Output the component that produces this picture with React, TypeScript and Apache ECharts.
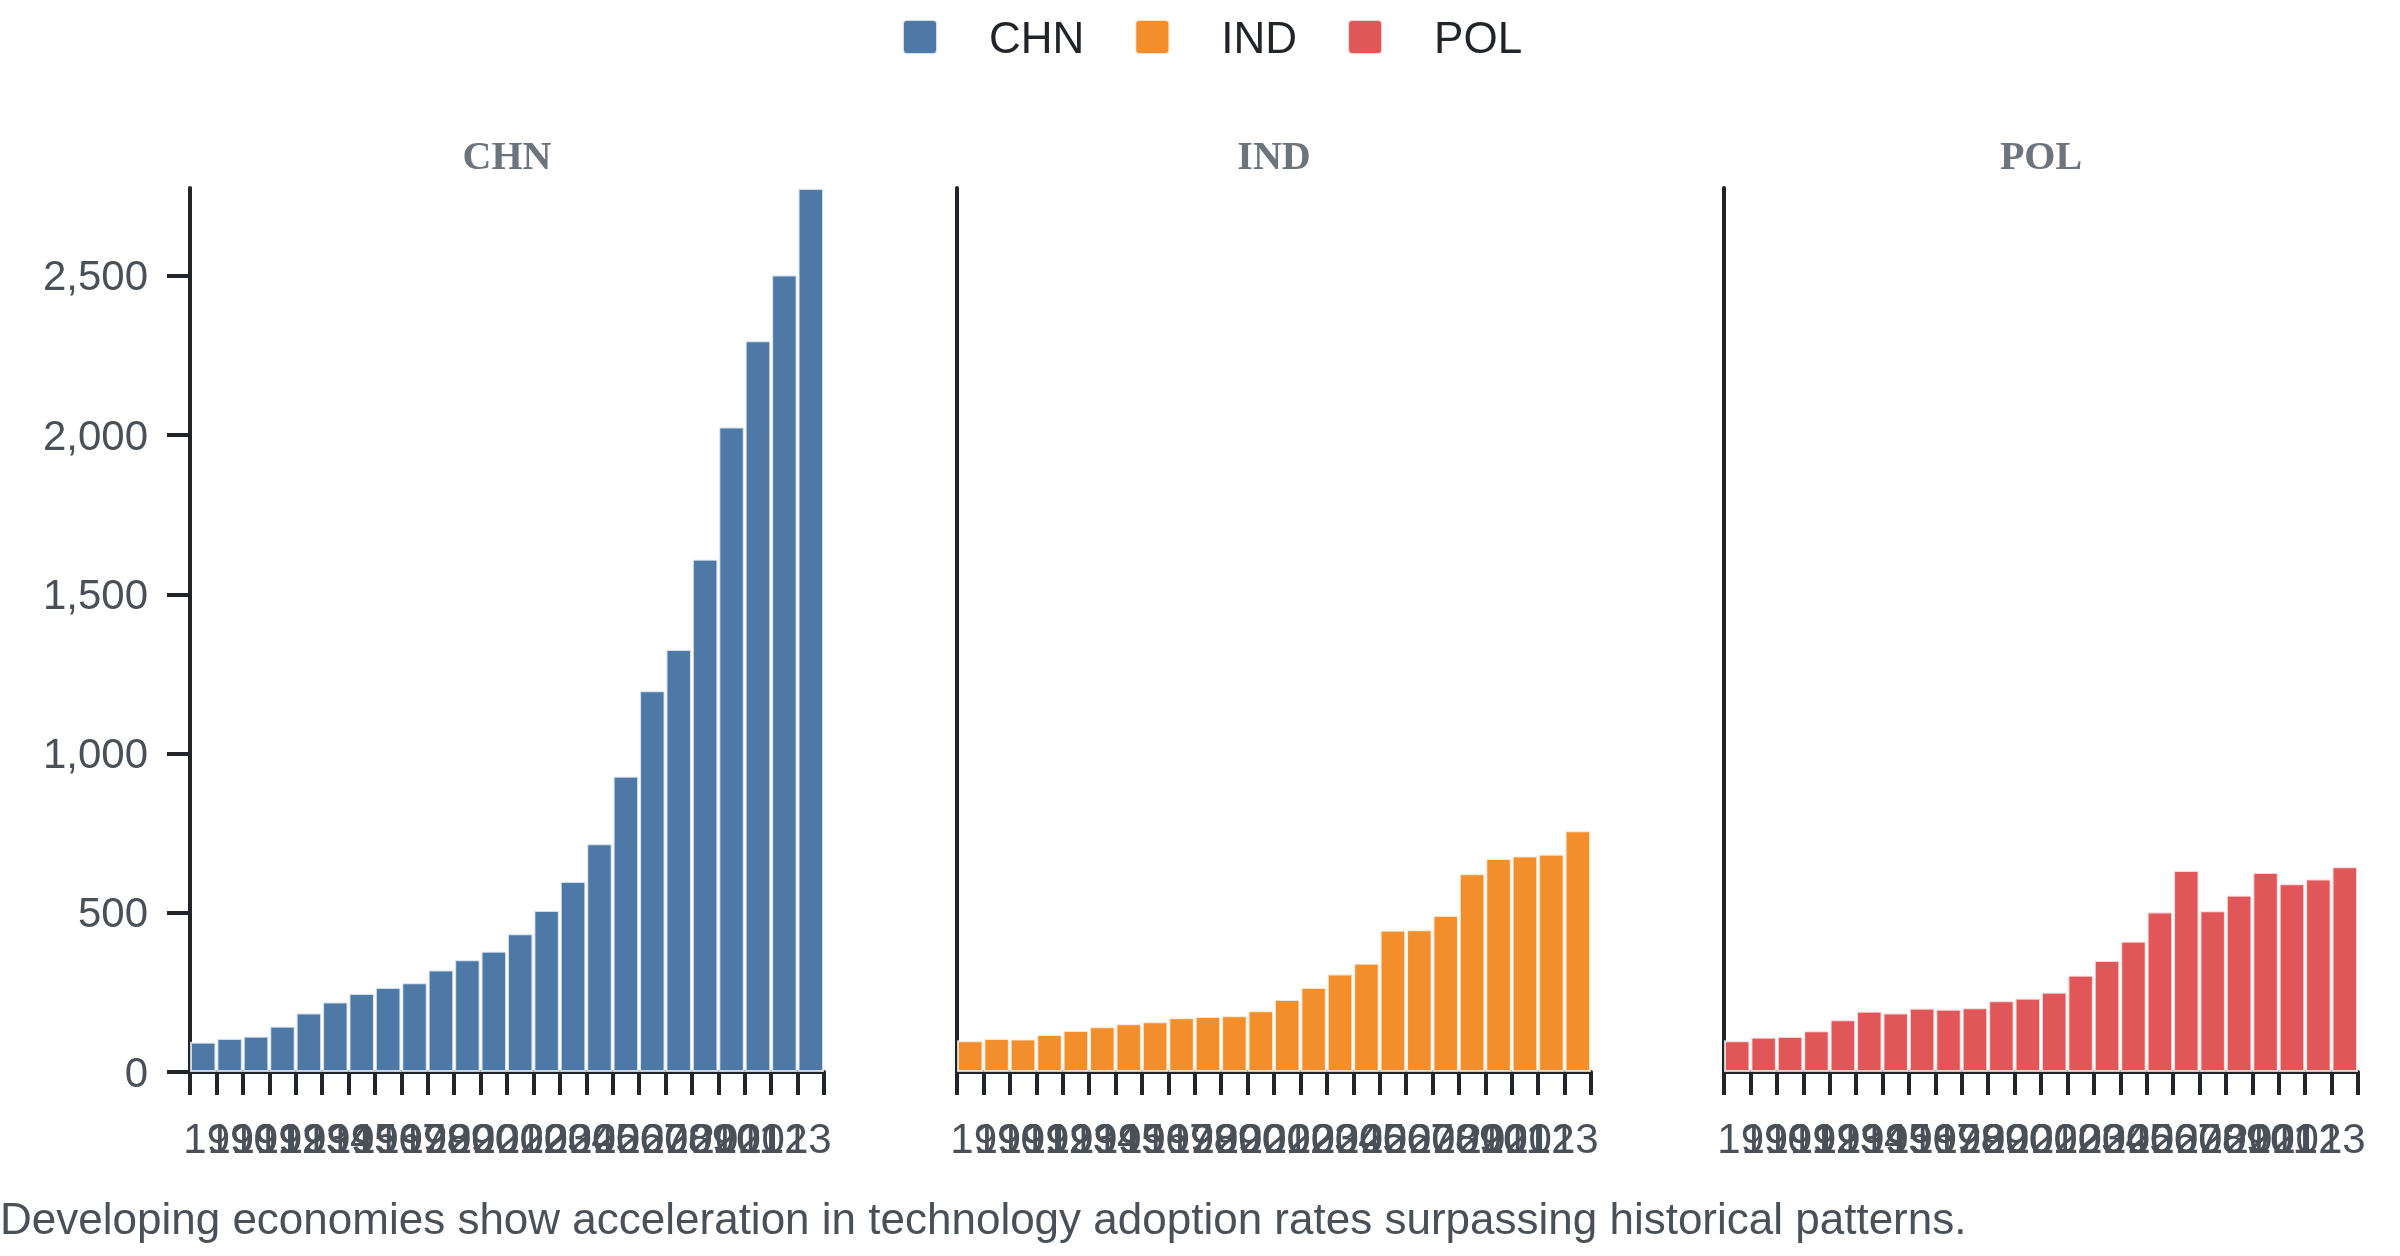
import React, { useEffect, useRef } from 'react';
import * as echarts from 'echarts';

const YEARS = ['1990', '1991', '1992', '1993', '1994', '1995', '1996', '1997', '1998', '1999', '2000', '2001', '2002', '2003', '2004', '2005', '2006', '2007', '2008', '2009', '2010', '2011', '2012', '2013'];
const COUNTRIES = ['CHN', 'IND', 'POL'];
const CHN = [95, 107, 114, 145, 187, 221, 248, 267, 282, 322, 354, 381, 436, 509, 600, 718, 930, 1199, 1328, 1612, 2027, 2298, 2504, 2776];
const IND = [100, 107, 105, 119, 132, 144, 153, 159, 172, 176, 178, 194, 229, 267, 309, 343, 447, 448, 493, 624, 672, 680, 685, 759];
const POL = [100, 111, 113, 131, 166, 192, 187, 202, 199, 203, 225, 233, 252, 305, 352, 412, 504, 634, 508, 557, 628, 593, 608, 646];
const Y_TICKS = [0, 500, 1000, 1500, 2000, 2500];
const CAPTION = 'Developing economies show acceleration in technology adoption rates surpassing historical patterns.';
const COLORS = ['#4e79a7', '#f28e2b', '#e15759'];

export default function App() {
  const ref = useRef<HTMLDivElement>(null);
  useEffect(() => {
    const chart = echarts.init(ref.current as HTMLDivElement, null, { renderer: 'svg' });
    const values = [CHN, IND, POL];
    const yMax = Math.max(...CHN, ...IND, ...POL);
    const lefts = [190, 957, 1724];
    const W = 634;
    const TOP = 188;
    const H = 884;
    const LABEL_INSET_L = 28;
    const LABEL_INSET_R = 27;
    const axisColor = '#212529';
    const labelColor = '#495057';
    const font = 'Liberation Sans, Arial, sans-serif';
    const legendIcon = 'path://M4,0 H30 A4,4 0 0 1 34,4 V30 A4,4 0 0 1 30,34 H4 A4,4 0 0 1 0,30 V4 A4,4 0 0 1 4,0 Z';

    const mainGrids = lefts.map((l) => ({ left: l, top: TOP, width: W, height: H, containLabel: false }));
    const labelGrids = lefts.map((l) => ({
      left: l + LABEL_INSET_L,
      top: TOP,
      width: W - LABEL_INSET_L - LABEL_INSET_R,
      height: H,
      containLabel: false,
    }));

    const mainX = lefts.map((_, i) => ({
      type: 'category',
      gridIndex: i,
      data: YEARS,
      axisLine: { show: true, lineStyle: { color: axisColor, width: 4 } },
      axisTick: { show: true, interval: 0, length: 23, lineStyle: { color: axisColor, width: 4 } },
      axisLabel: { show: false, interval: 0 },
      splitLine: { show: false },
    }));
    const labelX = lefts.map((_, i) => ({
      type: 'category',
      gridIndex: 3 + i,
      data: YEARS,
      axisLine: { show: false },
      axisTick: { show: false },
      axisLabel: { show: true, interval: 0, fontSize: 42, color: labelColor, margin: 45, fontFamily: font },
      splitLine: { show: false },
    }));
    const mainY = lefts.map((_, i) => ({
      type: 'value',
      gridIndex: i,
      min: 0,
      max: yMax,
      interval: 500,
      axisLine: { show: true, lineStyle: { color: axisColor, width: 4 } },
      axisTick: { show: i === 0, length: 23, lineStyle: { color: axisColor, width: 4 }, customValues: Y_TICKS },
      axisLabel: {
        show: i === 0,
        fontSize: 42,
        color: labelColor,
        margin: 42,
        fontFamily: font,
        customValues: Y_TICKS,
        formatter: (v: number) => v.toLocaleString('en-US'),
      },
      splitLine: { show: false },
    }));
    const labelY = lefts.map((_, i) => ({
      type: 'value',
      gridIndex: 3 + i,
      min: 0,
      max: yMax,
      show: false,
    }));

    const option: any = {
      animation: false,
      textStyle: { fontFamily: font },
      color: COLORS,
      legend: {
        data: COUNTRIES,
        top: 10,
        left: 897,
        itemWidth: 34,
        itemHeight: 34,
        itemGap: 50,
        icon: legendIcon,
        textStyle: { fontSize: 44, color: axisColor, fontFamily: font, padding: [0, 0, 0, 47] },
      },
      grid: [...mainGrids, ...labelGrids],
      xAxis: [...mainX, ...labelX],
      yAxis: [...mainY, ...labelY],
      series: COUNTRIES.map((name, i) => ({
        type: 'bar',
        name,
        xAxisIndex: i,
        yAxisIndex: i,
        data: values[i],
        barCategoryGap: '0%',
        itemStyle: { color: COLORS[i], borderColor: 'rgba(255,255,255,0.75)', borderWidth: 2 },
      })),
      graphic: [
        ...COUNTRIES.map((name, i) => ({
          type: 'text',
          x: lefts[i] + W / 2,
          y: 155,
          style: {
            text: name,
            fontSize: 40,
            fontWeight: 'bold',
            fontFamily: 'Liberation Serif, Times New Roman, serif',
            fill: '#6c757d',
            align: 'center',
            verticalAlign: 'middle',
          },
        })),
        {
          type: 'text',
          x: 0,
          y: 1218,
          style: {
            text: CAPTION,
            fontSize: 44,
            fontFamily: font,
            fill: labelColor,
            align: 'left',
            verticalAlign: 'middle',
          },
        },
      ],
    };
    chart.setOption(option);
    return () => chart.dispose();
  }, []);
  return <div ref={ref} style={{ position: 'fixed', left: 0, top: 0, width: '100vw', height: '100vh' }} />;
}
